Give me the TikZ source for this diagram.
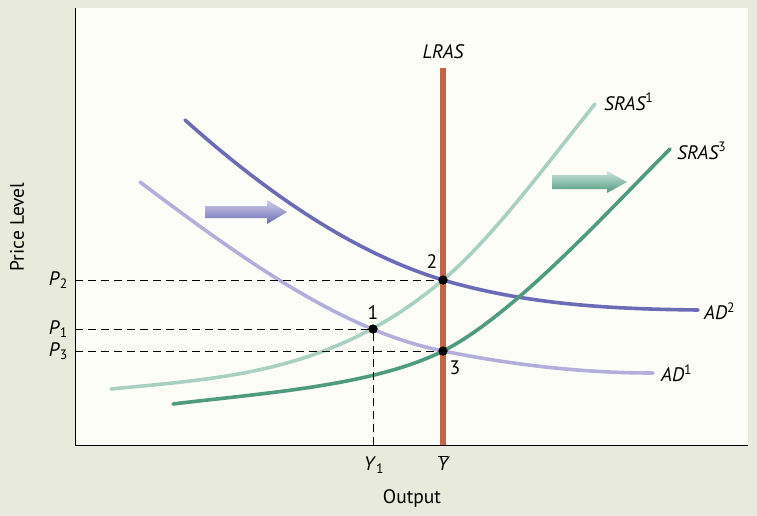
\documentclass[tikz,border=0pt]{standalone}
\usepackage{fontspec}
\setmainfont{PT Sans}
\definecolor{bgbeige}{HTML}{E8EBDB}
\definecolor{panelwhite}{HTML}{FDFDF8}
\definecolor{lrascol}{HTML}{C1654B}
\definecolor{adtwo}{HTML}{6C6CB6}
\definecolor{adone}{HTML}{B3AEDA}
\definecolor{srasone}{HTML}{A9D1C3}
\definecolor{srasthree}{HTML}{4F9B81}
\begin{document}
\begin{tikzpicture}[x=1pt,y=-1pt,
  font=\fontsize{19.5}{23}\selectfont,
  curve/.style={line width=3.6pt,line cap=round},
  eqdot/.style={circle,fill=black,inner sep=0pt,minimum size=9pt},
  guide/.style={black,line width=0.8pt,dash pattern=on 8pt off 5pt},
  lbl/.style={inner sep=1pt}]
\useasboundingbox (0,0) rectangle (757,516);
\fill[bgbeige] (0,0) rectangle (757,516);
\fill[panelwhite] (75,8) rectangle (748,445);
% axes
\coordinate (ytop) at (75,8);
\coordinate (origin) at (75,445);
\coordinate (xright) at (748,445);
\draw[black,line width=1pt] (ytop) -- (origin) -- (xright);
% curves
\draw[curve,adone] (140,182) .. controls (241,258) and (342,331) .. (443,351)
  .. controls (513,365) and (583,373) .. (653,373);
\draw[curve,adtwo] (185,120) .. controls (271,197) and (357,254) .. (443,280)
  .. controls (528,305) and (613,309) .. (698,310);
\draw[curve,srasone] (111,389) .. controls (222,378) and (332,374) .. (443,280)
  .. controls (493,237.5) and (545,166) .. (595,104);
\draw[curve,srasthree] (173,404) .. controls (263,393) and (373,386) .. (443,351)
  .. controls (513,316) and (610,209) .. (670,149);
% LRAS
\coordinate (lrastop) at (443,68);
\coordinate (lrasbot) at (443,445);
\draw[lrascol,line width=5.5pt] (lrastop) -- (lrasbot);
\node[lbl] (lraslbl) at (443,52) {\itshape LRAS};
% points
\node[eqdot] (pt2) at (443,280) {};
\node[eqdot] (pt1) at (373,329) {};
\node[eqdot] (pt3) at (443,351) {};
\node[lbl] (n2) at (432,262) {2};
\node[lbl] (n1) at (373,313) {1};
\node[lbl] (n3) at (455,368) {3};
% guides
\coordinate (a2) at (75,280);
\coordinate (a1) at (75,329);
\coordinate (a3) at (75,351);
\coordinate (b1) at (373,445);
\draw[guide] (a2) -- (pt2.center);
\draw[guide] (a1) -- (pt1.center);
\draw[guide] (a3) -- (pt3.center);
\draw[guide] (b1) -- (pt1.center);
\node[eqdot] at (pt2) {};
\node[eqdot] at (pt1) {};
\node[eqdot] at (pt3) {};
% axis labels
\node[lbl,anchor=east] (p2lbl) at (69,280) {\textit{P}\textsubscript{2}};
\node[lbl,anchor=east] (p1lbl) at (69,329) {\textit{P}\textsubscript{1}};
\node[lbl,anchor=east] (p3lbl) at (69,351) {\textit{P}\textsubscript{3}};
\node[lbl] (y1lbl) at (374,465) {\textit{Y}\textsubscript{1}};
\node[lbl] (ybarlbl) at (443,463) {$\overline{\mbox{\itshape Y}}$};
\node[lbl] (outlbl) at (412,499) {Output};
\node[lbl,rotate=90] (pricelbl) at (17,227) {Price Level};
% curve labels
\node[lbl,anchor=west] (s1lbl) at (603,102) {\itshape SRAS\textsuperscript{\upshape 1}};
\node[lbl,anchor=west] (s3lbl) at (676,151) {\itshape SRAS\textsuperscript{\upshape 3}};
\node[lbl,anchor=west] (ad2lbl) at (703,311) {\itshape AD\textsuperscript{\upshape 2}};
\node[lbl,anchor=west] (ad1lbl) at (660,373) {\itshape AD\textsuperscript{\upshape 1}};
% shift arrows
\shade[left color=adone!60!white,right color=adtwo,shading angle=0]
  (205,206) -- (267,206) -- (267,200) -- (287,212) -- (267,224) -- (267,218) -- (205,218) -- cycle;
\shade[left color=srasone!60!white,right color=srasthree,shading angle=0]
  (552,175) -- (607,175) -- (607,171) -- (627,182) -- (607,193) -- (607,189) -- (552,189) -- cycle;
\end{tikzpicture}
\end{document}
